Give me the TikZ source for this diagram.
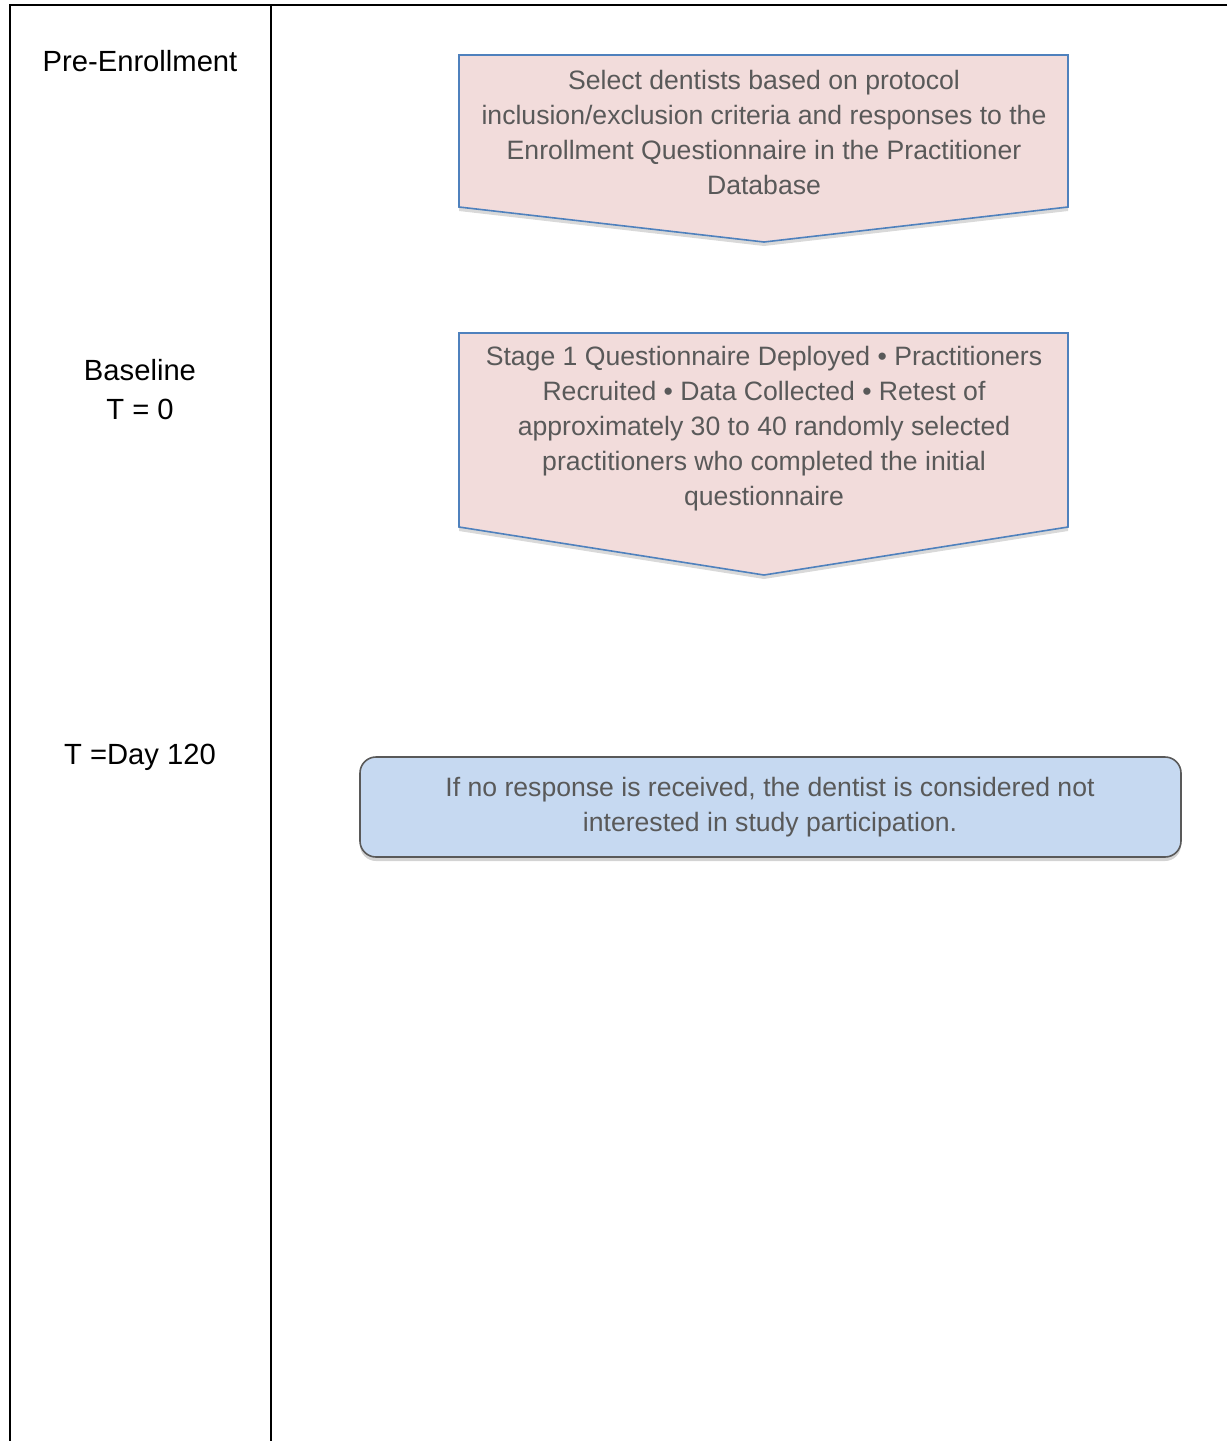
\documentclass[tikz,border=0pt]{standalone}
\usepackage{fontspec}
\setmainfont{Liberation Sans}
\usetikzlibrary{calc,shadows}
\definecolor{pinkfill}{RGB}{242,220,219}
\definecolor{pinkedge}{RGB}{79,129,189}
\definecolor{bluefill}{RGB}{198,217,241}
\definecolor{blueedge}{RGB}{89,89,89}
\definecolor{boxtext}{RGB}{89,89,89}
\tikzset{
rule/.style={line width=1pt,black},
phase label/.style={align=center,font=\fontsize{14.6}{19.5}\selectfont},
step text/.style={align=center,text=boxtext,inner sep=0pt,font=\fontsize{13.3}{17.5}\selectfont},
arrow box/.style={fill=pinkfill,draw=pinkedge,line width=0.8pt,drop shadow={opacity=0.3,shadow xshift=0pt,shadow yshift=-2pt}},
note box/.style={rounded corners=8pt,fill=bluefill,draw=blueedge,line width=0.8pt,minimum width=410.5pt,minimum height=50pt,drop shadow={opacity=0.35,shadow xshift=0pt,shadow yshift=-2pt}}}

\begin{document}
\begin{tikzpicture}[x=0.5pt,y=-0.5pt]
\useasboundingbox (0,0) rectangle (1227,1441);

% table rules
\coordinate (tl) at (10,5);
\coordinate (tr) at (1227,5);
\coordinate (bl) at (10,1441);
\coordinate (tm) at (271,5);
\coordinate (bm) at (271,1441);
\draw[rule] (tr) -- (tl) -- (bl);
\draw[rule] (tm) -- (bm);

% phases
\node[phase label] (pre) at (140,61) {Pre-Enrollment};
\node[phase label] (base) at (140,390) {Baseline\\T = 0};
\node[phase label] (day) at (140,757) {T =Day 120};

% steps
\coordinate (sel nw) at (459,55);
\coordinate (sel ne) at (1068,55);
\coordinate (sel se) at (1068,207);
\coordinate (sel sw) at (459,207);
\coordinate (sel tip) at (764,242);
\draw[arrow box] (sel nw) -- (sel ne) -- (sel se) -- (sel tip) -- (sel sw) -- cycle;
\node[step text] (sel) at (764,132.5) {Select dentists based on protocol\\inclusion/exclusion criteria and responses to the\\Enrollment Questionnaire in the Practitioner\\Database};

\coordinate (stg nw) at (459,333);
\coordinate (stg ne) at (1068,333);
\coordinate (stg se) at (1068,527);
\coordinate (stg sw) at (459,527);
\coordinate (stg tip) at (764,575);
\draw[arrow box] (stg nw) -- (stg ne) -- (stg se) -- (stg tip) -- (stg sw) -- cycle;
\node[step text] (stg) at (764,429) {Stage 1 Questionnaire Deployed \textbullet{} Practitioners\\Recruited \textbullet{} Data Collected \textbullet{} Retest of\\approximately 30 to 40 randomly selected\\practitioners who completed the initial\\questionnaire};

\node[note box] (none) at (770.5,807) {};
\node[step text] (none text) at (770,807.5) {If no response is received, the dentist is considered not\\interested in study participation.};

\end{tikzpicture}
\end{document}
